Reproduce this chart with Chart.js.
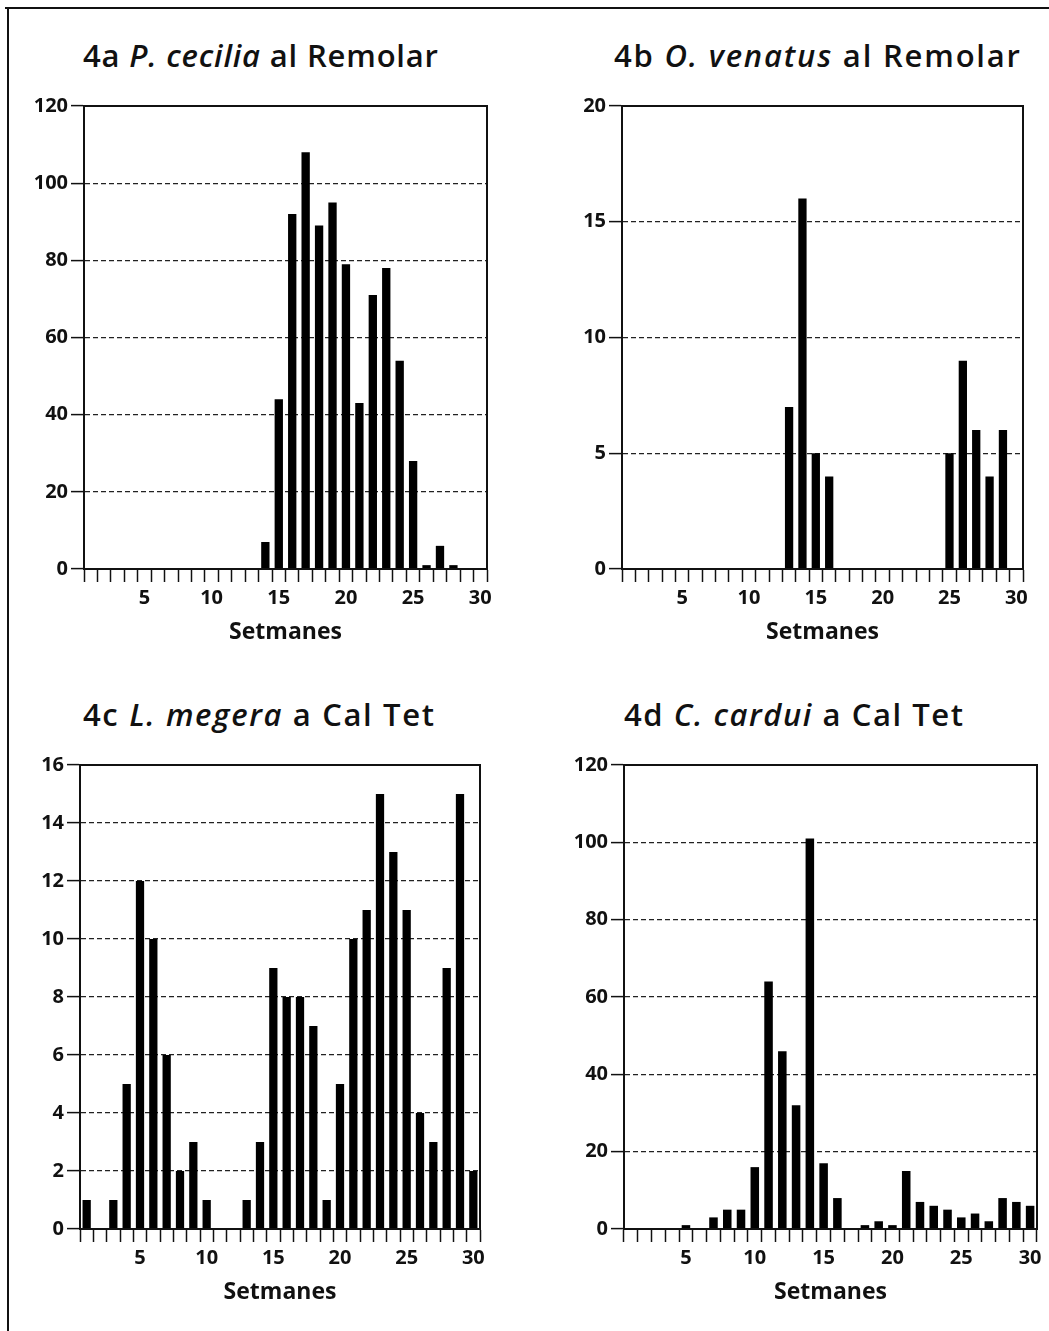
<!DOCTYPE html>
<html>
<head>
<meta charset="utf-8">
<script src="https://cdn.jsdelivr.net/npm/chart.js@4.4.1/dist/chart.umd.min.js"></script>
<style>
  html, body { margin: 0; padding: 0; background: #fff; }
  body { width: 1049px; height: 1331px; position: relative; overflow: hidden; font-family: 'Open Sans', sans-serif; }
  .frameTop { position: absolute; left: 5px; top: 7px; width: 1044px; height: 2px; background: #111; }
  .frameLeft { position: absolute; left: 7px; top: 7px; width: 2px; height: 1324px; background: #111; }
  .ttl { position: absolute; font-family: 'Open Sans', sans-serif; font-weight: 600; font-size: 31px; color: #111; white-space: nowrap; line-height: 1; }
  .ttl i { font-style: italic; }
  canvas { position: absolute; }
</style>
</head>
<body>
<div class="frameTop"></div>
<div class="frameLeft"></div>
<div class="ttl" id="t1" data-w="355" style="left:83px; top:40px;">4a <i>P. cecilia</i> al Remolar</div>
<div class="ttl" id="t2" data-w="406" style="left:614px; top:40px;">4b <i>O. venatus</i> al Remolar</div>
<div class="ttl" id="t3" data-w="351" style="left:83px; top:699px;">4c <i>L. megera</i> a Cal Tet</div>
<div class="ttl" id="t4" data-w="339" style="left:624px; top:699px;">4d <i>C. cardui</i> a Cal Tet</div>
<canvas id="c1"></canvas>
<canvas id="c2"></canvas>
<canvas id="c3"></canvas>
<canvas id="c4"></canvas>
<script>
// ---- Data ----
const weeks = ['1','2','3','4','5','6','7','8','9','10','11','12','13','14','15','16','17','18','19','20','21','22','23','24','25','26','27','28','29','30'];
const xTickLabels = ['5','10','15','20','25','30'];
const pCecilia  = [0,0,0,0,0,0,0,0,0,0,0,0,0,7,44,92,108,89,95,79,43,71,78,54,28,1,6,1,0,0];
const oVenatus  = [0,0,0,0,0,0,0,0,0,0,0,0,7,16,5,4,0,0,0,0,0,0,0,0,5,9,6,4,6,0];
const lMegera   = [1,0,1,5,12,10,6,2,3,1,0,0,1,3,9,8,8,7,1,5,10,11,15,13,11,4,3,9,15,2];
const cCardui   = [0,0,0,0,1,0,3,5,5,16,64,46,32,101,17,8,0,1,2,1,15,7,6,5,3,4,2,8,7,6];
const yMaxA = 120, yStepA = 20;
const yMaxB = 20,  yStepB = 5;
const yMaxC = 16,  yStepC = 2;
const yMaxD = 120, yStepD = 20;
const xAxisTitle = 'Setmanes';

// ---- Title width fitting (letter spacing only) ----
document.querySelectorAll('.ttl').forEach(el => {
  const target = +el.dataset.w;
  const natural = el.getBoundingClientRect().width;
  const n = el.textContent.length;
  el.style.letterSpacing = ((target - natural) / Math.max(1, n - 1)) + 'px';
});

// ---- Layout (pixel geometry, not data) ----
const FONT = "'Open Sans', sans-serif";
const panels = [
  { id: 'c1', data: pCecilia, max: yMaxA, step: yStepA, L: 84,  R: 487,  T: 106, B: 569 },
  { id: 'c2', data: oVenatus, max: yMaxB, step: yStepB, L: 622, R: 1023, T: 106, B: 569 },
  { id: 'c3', data: lMegera,  max: yMaxC, step: yStepC, L: 80,  R: 480,  T: 765, B: 1229 },
  { id: 'c4', data: cCardui,  max: yMaxD, step: yStepD, L: 624, R: 1037, T: 765, B: 1229 }
];

const framePlugin = {
  id: 'frame',
  afterDatasetsDraw(chart) {
    const a = chart.chartArea, ctx = chart.ctx;
    ctx.save();
    ctx.strokeStyle = '#111';
    ctx.lineWidth = 2;
    ctx.strokeRect(a.left, a.top, a.right - a.left, a.bottom - a.top);
    ctx.restore();
  }
};

panels.forEach(p => {
  const cx = p.L - 76, cy = p.T - 14, cw = (p.R - p.L) + 76 + 20, XH = 78;
  const ch = (p.B - cy) + XH + 4;
  const cv = document.getElementById(p.id);
  cv.style.left = cx + 'px';
  cv.style.top = cy + 'px';
  cv.width = cw; cv.height = ch;
  cv.style.width = cw + 'px'; cv.style.height = ch + 'px';
  new Chart(cv, {
    type: 'bar',
    data: {
      labels: weeks,
      datasets: [{ data: p.data, backgroundColor: '#000', borderWidth: 0, barPercentage: 0.62, categoryPercentage: 1.0 }]
    },
    options: {
      responsive: false,
      animation: false,
      devicePixelRatio: 1,
      layout: { padding: { top: p.T - cy, right: cx + cw - p.R, bottom: ch - (p.B - cy) - XH, left: 0 } },
      plugins: { legend: { display: false }, tooltip: { enabled: false }, title: { display: false } },
      scales: {
        x: {
          offset: true,
          grid: { display: true, offset: true, drawOnChartArea: false, drawTicks: true, tickLength: 13, tickColor: '#111', tickWidth: 1.5 },
          border: { display: true, color: '#111', width: 2 },
          ticks: {
            autoSkip: false, maxRotation: 0, minRotation: 0, padding: 4,
            color: '#111', font: { family: FONT, size: 20, weight: '700' },
            callback: function(v, i) { const l = weeks[i]; return xTickLabels.includes(l) ? l : ''; }
          },
          title: { display: true, text: xAxisTitle, color: '#111', font: { family: FONT, size: 23, weight: '700' }, padding: { top: 0, bottom: 1 } },
          afterFit: s => { s.height = XH; s.paddingLeft = 0; s.paddingRight = 0; s.paddingTop = 0; s.paddingBottom = 0; }
        },
        y: {
          min: 0, max: p.max,
          grid: {
            display: true, drawOnChartArea: true, drawTicks: true, tickLength: 13,
            color: ctx => (ctx.tick && (ctx.tick.value === 0 || ctx.tick.value === p.max)) ? 'rgba(0,0,0,0)' : '#222',
            lineWidth: 1.2, tickColor: '#111', tickWidth: 1.5, tickBorderDash: []
          },
          border: { display: true, color: '#111', width: 2, dash: [5, 3] },
          ticks: { stepSize: p.step, padding: 3, color: '#111', font: { family: FONT, size: 20, weight: '700' } },
          afterFit: s => { s.width = p.L - cx; s.paddingLeft = 0; s.paddingRight = 0; s.paddingTop = 0; s.paddingBottom = 0; }
        }
      }
    },
    plugins: [framePlugin]
  });
});
</script>
</body>
</html>
